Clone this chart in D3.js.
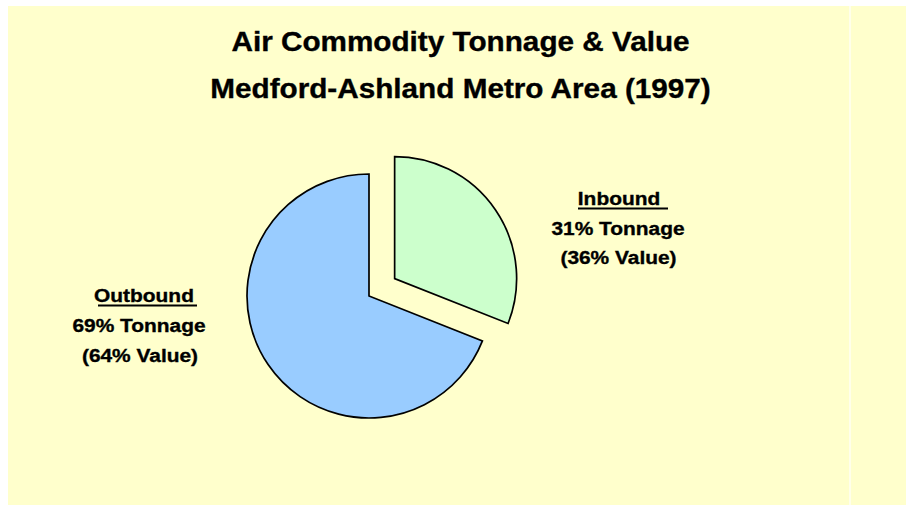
<!DOCTYPE html>
<html>
<head>
<meta charset="utf-8">
<script src="https://cdn.jsdelivr.net/npm/d3@7"></script>
<style>
  html, body { margin: 0; padding: 0; background: #ffffff; }
  svg { display: block; }
  text { font-family: "Liberation Sans", Arial, sans-serif; font-weight: bold; fill: #000; stroke: #000; stroke-width: 0.35; }
</style>
</head>
<body>
<svg id="chart" width="906" height="506"></svg>
<script>
// ---- data ----
const categories = ["Inbound", "Outbound"];
const tonnageShare = [31, 69];
const valueShare = [36, 64];
const sliceColors = ["#CCFFCC", "#99CCFF"];
const titleLines = ["Air Commodity Tonnage & Value", "Medford-Ashland Metro Area (1997)"];

const svg = d3.select("#chart");

// background
svg.append("rect").attr("x", 8).attr("y", 6).attr("width", 898).attr("height", 499).attr("fill", "#FFFFCC");
svg.append("line").attr("x1", 850).attr("x2", 850).attr("y1", 6).attr("y2", 505)
  .attr("stroke", "#ffffff").attr("stroke-width", 1.2);

// title
const titleY = [51, 97.5];
titleLines.forEach((t, i) => {
  svg.append("text")
    .attr("transform", `translate(460.5,${titleY[i]}) scale(1.1,1)`)
    .attr("text-anchor", "middle")
    .attr("font-size", 27)
    .text(t);
});

// pie
const cx = 369, cy = 296, r = 122, explode = 31;
const pie = d3.pie().sort(null).value(d => d)(tonnageShare);
const arc = d3.arc().innerRadius(0).outerRadius(r);
const explodeIdx = 0;
const g = svg.append("g").attr("transform", `translate(${cx},${cy})`);
g.selectAll("path").data(pie).join("path")
  .attr("d", arc)
  .attr("fill", (d, i) => sliceColors[i])
  .attr("stroke", "#000")
  .attr("stroke-width", 1.7)
  .attr("stroke-linejoin", "miter")
  .attr("transform", (d, i) => {
    if (i !== explodeIdx) return null;
    const a = (d.startAngle + d.endAngle) / 2;
    return `translate(${explode * Math.sin(a)},${-explode * Math.cos(a)})`;
  });

// labels
const labelSpecs = [
  { cx: [619, 618, 618.5], y: [205, 234.5, 263.5], ul: [578, 668, 208.5] },
  { cx: [144, 139, 140], y: [302, 332, 362], ul: [98, 197, 305.5] }
];
categories.forEach((c, i) => {
  const s = labelSpecs[i];
  const lines = [c, `${tonnageShare[i]}% Tonnage`, `(${valueShare[i]}% Value)`];
  lines.forEach((t, j) => {
    svg.append("text")
      .attr("transform", `translate(${s.cx[j]},${s.y[j]}) scale(1.1,1)`)
      .attr("text-anchor", "middle")
      .attr("font-size", 19)
      .text(t);
  });
  svg.append("line").attr("x1", s.ul[0]).attr("x2", s.ul[1]).attr("y1", s.ul[2]).attr("y2", s.ul[2])
    .attr("stroke", "#000").attr("stroke-width", 2);
});
</script>
</body>
</html>
